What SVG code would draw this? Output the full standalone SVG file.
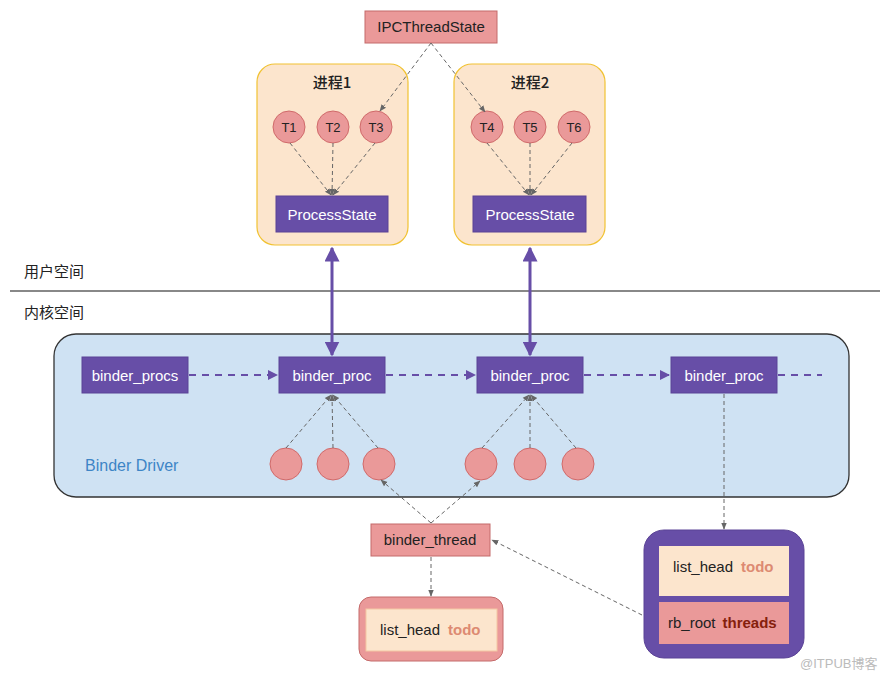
<svg xmlns="http://www.w3.org/2000/svg" width="889" height="678" viewBox="0 0 889 678">
<style>
text{font-family:"Liberation Sans","Noto Sans CJK SC",sans-serif;font-size:15px;fill:#222}
.cn{font-family:"Noto Sans CJK SC",sans-serif;font-size:15px}
.wt{fill:#fff}
.purple{fill:#674ea7;stroke:#5b4396;stroke-width:1}
.pink{fill:#ea9999;stroke:#c46a6a;stroke-width:1}
.proc{fill:#fce5cd;stroke:#f1c232;stroke-width:1.2}
.circ{fill:#ea9999;stroke:#d06a6a;stroke-width:1}
.gd{stroke:#666;stroke-width:1;stroke-dasharray:4 3;fill:none}
.pd{stroke:#674ea7;stroke-width:2;stroke-dasharray:7 6;fill:none}
.thick{stroke:#674ea7;stroke-width:3;fill:none}
.todo{fill:#dd8a72;font-weight:bold}
.thr{fill:#85200c;font-weight:bold}
</style>
<defs>
<marker id="ga" viewBox="0 0 10 10" refX="9" refY="5" markerWidth="7" markerHeight="7" orient="auto"><path d="M0,1 L10,5 L0,9 z" fill="#666"/></marker>
<marker id="pa" viewBox="0 0 10 10" refX="9" refY="5" markerWidth="5" markerHeight="5" orient="auto"><path d="M0,0 L10,5 L0,10 z" fill="#674ea7"/></marker>
<marker id="ta" viewBox="0 0 10 10" refX="9" refY="5" markerWidth="5" markerHeight="5" orient="auto-start-reverse"><path d="M0,0 L10,5 L0,10 z" fill="#674ea7"/></marker>
</defs>

<g id="kernel-box"><rect x="54" y="334" width="795" height="163" rx="22" fill="#cfe2f3" stroke="#333" stroke-width="1.3"/>
<text x="85" y="471" style="font-size:16px;fill:#3d85c6">Binder Driver</text></g>

<g id="divider"><line x1="10" y1="291" x2="880" y2="291" stroke="#888" stroke-width="2"/>
<text class="cn" x="24" y="277">用户空间</text>
<text class="cn" x="24" y="318">内核空间</text></g>

<g id="ipc"><rect class="pink" x="365" y="11" width="132" height="32"/><text x="431" y="32" text-anchor="middle">IPCThreadState</text></g>

<g id="process1"><rect class="proc" x="257" y="64" width="151" height="181" rx="18"/><text class="cn" x="332" y="88" text-anchor="middle" style="font-weight:500">进程1</text></g>
<g id="process2"><rect class="proc" x="454" y="64" width="151" height="181" rx="18"/><text class="cn" x="530" y="88" text-anchor="middle" style="font-weight:500">进程2</text></g>

<g id="threads-user">
<circle class="circ" cx="289" cy="127" r="16"/><text x="289" y="132" text-anchor="middle" style="font-size:13px">T1</text>
<circle class="circ" cx="333" cy="127" r="16"/><text x="333" y="132" text-anchor="middle" style="font-size:13px">T2</text>
<circle class="circ" cx="376" cy="127" r="16"/><text x="376" y="132" text-anchor="middle" style="font-size:13px">T3</text>
<circle class="circ" cx="487" cy="127" r="16"/><text x="487" y="132" text-anchor="middle" style="font-size:13px">T4</text>
<circle class="circ" cx="530" cy="127" r="16"/><text x="530" y="132" text-anchor="middle" style="font-size:13px">T5</text>
<circle class="circ" cx="574" cy="127" r="16"/><text x="574" y="132" text-anchor="middle" style="font-size:13px">T6</text>
</g>

<g id="ps1"><rect class="purple" x="276" y="196" width="112" height="36"/><text class="wt" x="332" y="220" text-anchor="middle">ProcessState</text></g>
<g id="ps2"><rect class="purple" x="473" y="196" width="113" height="36"/><text class="wt" x="530" y="220" text-anchor="middle">ProcessState</text></g>

<g id="binder_procs"><rect class="purple" x="82" y="357" width="106" height="36"/><text class="wt" x="135" y="381" text-anchor="middle">binder_procs</text></g>
<g id="bp1"><rect class="purple" x="279" y="357" width="106" height="36"/><text class="wt" x="332" y="381" text-anchor="middle">binder_proc</text></g>
<g id="bp2"><rect class="purple" x="477" y="357" width="106" height="36"/><text class="wt" x="530" y="381" text-anchor="middle">binder_proc</text></g>
<g id="bp3"><rect class="purple" x="671" y="357" width="106" height="36"/><text class="wt" x="724" y="381" text-anchor="middle">binder_proc</text></g>

<g id="threads-kernel">
<circle class="circ" cx="286" cy="464" r="16"/><circle class="circ" cx="333" cy="464" r="16"/><circle class="circ" cx="379" cy="464" r="16"/>
<circle class="circ" cx="481" cy="464" r="16"/><circle class="circ" cx="530" cy="464" r="16"/><circle class="circ" cx="578" cy="464" r="16"/>
</g>

<g id="binder_thread"><rect class="pink" x="371" y="524" width="119" height="32"/><text x="430" y="545" text-anchor="middle">binder_thread</text></g>

<g id="thread-todo"><rect x="359" y="597" width="144" height="64" rx="12" fill="#ea9999" stroke="#c46a6a"/>
<rect x="366" y="609" width="131" height="42" fill="#fce5cd" stroke="#f4c7a3"/>
<text x="380" y="635">list_head<tspan class="todo" dx="8">todo</tspan></text></g>

<g id="proc-detail"><rect x="644" y="530" width="160" height="128" rx="20" fill="#674ea7" stroke="#5b4396"/>
<rect x="659" y="546" width="130" height="50" fill="#fce5cd"/>
<text x="673" y="572">list_head<tspan class="todo" dx="8">todo</tspan></text>
<rect x="659" y="602" width="130" height="42" fill="#ea9999"/>
<text x="668" y="628">rb_root<tspan class="thr" dx="7">threads</tspan></text></g>

<g id="connectors">
<line class="gd" x1="431" y1="43" x2="380" y2="111" marker-end="url(#ga)"/>
<line class="gd" x1="431" y1="43" x2="485" y2="112" marker-end="url(#ga)"/>
<line class="gd" x1="290" y1="143" x2="331" y2="195" marker-end="url(#ga)"/>
<line class="gd" x1="333" y1="143" x2="332" y2="195" marker-end="url(#ga)"/>
<line class="gd" x1="375" y1="143" x2="333" y2="195" marker-end="url(#ga)"/>
<line class="gd" x1="487" y1="143" x2="529" y2="195" marker-end="url(#ga)"/>
<line class="gd" x1="530" y1="143" x2="530" y2="195" marker-end="url(#ga)"/>
<line class="gd" x1="572" y1="143" x2="531" y2="195" marker-end="url(#ga)"/>

<line class="thick" x1="332" y1="248" x2="332" y2="355" marker-start="url(#ta)" marker-end="url(#ta)"/>
<line class="thick" x1="530" y1="248" x2="530" y2="355" marker-start="url(#ta)" marker-end="url(#ta)"/>

<line class="pd" x1="189" y1="375" x2="277" y2="375" marker-end="url(#pa)"/>
<line class="pd" x1="386" y1="375" x2="475" y2="375" marker-end="url(#pa)"/>
<line class="pd" x1="584" y1="375" x2="669" y2="375" marker-end="url(#pa)"/>
<line class="pd" x1="778" y1="375" x2="822" y2="375"/>

<line class="gd" x1="286" y1="448" x2="331" y2="395" marker-end="url(#ga)"/>
<line class="gd" x1="333" y1="448" x2="332" y2="395" marker-end="url(#ga)"/>
<line class="gd" x1="378" y1="448" x2="333" y2="395" marker-end="url(#ga)"/>
<line class="gd" x1="482" y1="448" x2="529" y2="395" marker-end="url(#ga)"/>
<line class="gd" x1="530" y1="448" x2="530" y2="395" marker-end="url(#ga)"/>
<line class="gd" x1="576" y1="448" x2="531" y2="395" marker-end="url(#ga)"/>

<line class="gd" x1="431" y1="523" x2="381" y2="480" marker-end="url(#ga)"/>
<line class="gd" x1="431" y1="523" x2="480" y2="481" marker-end="url(#ga)"/>
<line class="gd" x1="431" y1="557" x2="431" y2="596" marker-end="url(#ga)"/>
<line class="gd" x1="724" y1="394" x2="724" y2="529" marker-end="url(#ga)"/>
<line class="gd" x1="642" y1="615" x2="492" y2="540" marker-end="url(#ga)"/>
</g>

<text x="800" y="668" style="font-size:13px;fill:#bbb">@ITPUB博客</text>
</svg>
